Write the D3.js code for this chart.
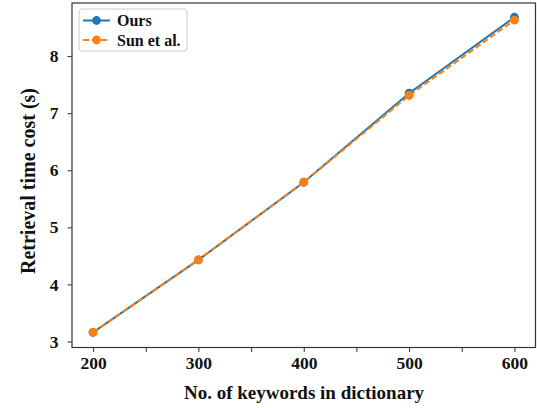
<!DOCTYPE html>
<html>
<head>
<meta charset="utf-8">
<script src="https://cdn.jsdelivr.net/npm/d3@7"></script>
<style>
  html, body { margin: 0; padding: 0; background: #fff; }
  svg { display: block; }
  text { font-family: "Liberation Serif", "Times New Roman", serif; font-weight: bold; fill: #111; }
</style>
</head>
<body>
<svg id="chart" width="537" height="408"></svg>
<script>
// Dictionary sizes (number of keywords)
const keywords = [200, 300, 400, 500, 600];
// Retrieval time cost in seconds
const oursTime = [3.16, 4.43, 5.79, 7.35, 8.68];
const sunTime  = [3.16, 4.43, 5.79, 7.31, 8.63];
const seriesNames = ["Ours", "Sun et al."];
const seriesColors = ["#1f77b4", "#ff7f0e"];
const xTicks = [200, 250, 300, 350, 400, 450, 500, 550, 600];
const xLabeled = [200, 300, 400, 500, 600];
const yTicks = [3, 4, 5, 6, 7, 8];

const svg = d3.select("#chart");
const plotL = 72, plotR = 535.5, plotT = 3, plotB = 347.5;

const x = d3.scaleLinear().domain([180, 620]).range([plotL, plotR]);
const y = d3.scaleLinear().domain([2.895, 8.93]).range([plotB, plotT]);

// Axes
const xAxis = d3.axisBottom(x).tickValues(xTicks).tickSize(4.5).tickPadding(5)
  .tickFormat(d => xLabeled.includes(d) ? d : "");
const yAxis = d3.axisLeft(y).tickValues(yTicks).tickSize(4.5).tickPadding(9)
  .tickFormat(d3.format("d"));

const gx = svg.append("g").attr("transform", `translate(0,${plotB})`).call(xAxis);
const gy = svg.append("g").attr("transform", `translate(${plotL},0)`).call(yAxis);
[gx, gy].forEach(g => {
  g.select(".domain").remove();
  g.selectAll(".tick line").attr("stroke", "#333").attr("stroke-width", 1);
  g.selectAll(".tick text").style("font-size", "17.5px").attr("fill", "#111");
});

// Plot frame
svg.append("rect")
  .attr("x", plotL).attr("y", plotT)
  .attr("width", plotR - plotL).attr("height", plotB - plotT)
  .attr("fill", "none").attr("stroke", "#333").attr("stroke-width", 1.2);

// Series
const series = [
  { name: seriesNames[0], values: oursTime, color: seriesColors[0], dash: null },
  { name: seriesNames[1], values: sunTime, color: seriesColors[1], dash: "6,3" }
];
const line = d3.line().x((d, i) => x(keywords[i])).y(d => y(d));

series.forEach(s => {
  svg.append("path")
    .datum(s.values)
    .attr("d", line)
    .attr("fill", "none")
    .attr("stroke", s.color)
    .attr("stroke-width", 2)
    .attr("stroke-dasharray", s.dash);
  svg.append("g").selectAll("circle")
    .data(s.values)
    .join("circle")
    .attr("cx", (d, i) => x(keywords[i]))
    .attr("cy", d => y(d))
    .attr("r", 4.4)
    .attr("fill", s.color);
});

// Axis titles
svg.append("text")
  .attr("x", 304).attr("y", 398.5)
  .attr("text-anchor", "middle")
  .style("font-size", "19px")
  .text("No. of keywords in dictionary");
svg.append("text")
  .attr("transform", `translate(34.5,181) rotate(-90)`)
  .attr("text-anchor", "middle")
  .style("font-size", "20px")
  .text("Retrieval time cost (s)");

// Legend
const lg = svg.append("g");
lg.append("rect")
  .attr("x", 79).attr("y", 9).attr("width", 108).attr("height", 42).attr("rx", 3)
  .attr("fill", "#fff").attr("stroke", "#ccc").attr("stroke-width", 1);
series.forEach((s, i) => {
  const yy = 20.5 + i * 19.5;
  lg.append("line")
    .attr("x1", 83).attr("x2", 110).attr("y1", yy).attr("y2", yy)
    .attr("stroke", s.color).attr("stroke-width", 2)
    .attr("stroke-dasharray", s.dash);
  lg.append("circle").attr("cx", 96.5).attr("cy", yy).attr("r", 4.4).attr("fill", s.color);
  lg.append("text")
    .attr("x", 117).attr("y", yy).attr("dy", "0.35em")
    .style("font-size", "16px")
    .text(s.name);
});
</script>
</body>
</html>
